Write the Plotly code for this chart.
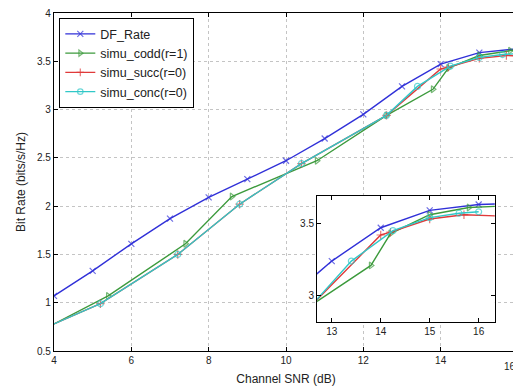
import plotly.graph_objects as go

# ---------------- data ----------------
df_x = [4, 5, 6, 7, 8, 9, 10, 11, 12, 13, 14, 15, 16, 17]
df_y = [1.07, 1.33, 1.61, 1.87, 2.09, 2.28, 2.47, 2.70, 2.95, 3.24, 3.47, 3.59, 3.63, 3.64]

codd_x = [4, 5.4, 7.4, 8.6, 10.8, 12.6, 13.8, 14.2, 15.0, 15.8, 16.5]
codd_y = [0.78, 1.07, 1.61, 2.10, 2.47, 2.94, 3.21, 3.43, 3.56, 3.61, 3.62]

succ_x = [4, 5.2, 7.2, 8.8, 10.4, 12.6, 14.0, 14.2, 15.0, 15.7, 16.5]
succ_y = [0.78, 0.99, 1.50, 2.02, 2.44, 2.94, 3.42, 3.44, 3.53, 3.56, 3.55]

conc_x = [4, 5.2, 7.2, 8.8, 10.4, 12.6, 13.4, 14.25, 15.0, 15.6, 16.0]
conc_y = [0.78, 0.99, 1.50, 2.02, 2.44, 2.94, 3.24, 3.45, 3.54, 3.57, 3.58]

names = ["DF_Rate", "simu_codd(r=1)", "simu_succ(r=0)", "simu_conc(r=0)"]
colors = ["#3030d8", "#3c9a3c", "#e03a3a", "#30c8c8"]
symbols = ["x-thin-open", "triangle-right-open", "cross-thin-open", "circle-open"]

main_xticks = [4, 6, 8, 10, 12, 14, 16]
main_xticklabels = ["4", "6", "8", "10", "12", "14", ""]  # last label drawn separately
last_xtick = 16
last_xticklabel = "16"
main_yticks = [0.5, 1, 1.5, 2, 2.5, 3, 3.5, 4]
main_yticklabels = ["0.5", "1", "1.5", "2", "2.5", "3", "3.5", "4"]
inset_xticks = [13, 14, 15, 16]
inset_yticks = [3, 3.5]

series = [(df_x, df_y), (codd_x, codd_y), (succ_x, succ_y), (conc_x, conc_y)]

fig = go.Figure()
for axis_pair in [("x", "y"), ("x2", "y2")]:
    for i in range(4):
        x, y = series[i]
        sizes = [6] * len(x)
        if i > 0:
            sizes[0] = 0  # no marker at the axis edge for simulation curves
        fig.add_trace(go.Scatter(
            x=x, y=y, mode="lines+markers", name=names[i],
            line=dict(color=colors[i], width=1.4),
            marker=dict(symbol=symbols[i], size=sizes, color=colors[i],
                        line=dict(color=colors[i], width=1.2)),
            xaxis=axis_pair[0], yaxis=axis_pair[1],
            showlegend=(axis_pair[0] == "x")))

tickfont = dict(family="Liberation Sans, Arial", size=10, color="#222")
axis_common = dict(showline=True, linecolor="black", linewidth=1.2, mirror="ticks",
                   ticks="inside", ticklen=4, tickcolor="black", automargin=False,
                   ticklabeloverflow="allow", tickfont=tickfont, zeroline=False)

fig.update_layout(
    width=521, height=388,
    margin=dict(l=46, r=11, t=5, b=45, autoexpand=False),
    paper_bgcolor="white", plot_bgcolor="white",
    font=dict(family="Liberation Sans, Arial", color="#222"),
    xaxis=dict(domain=[0, 1], range=[4, 16], tickvals=main_xticks, ticktext=main_xticklabels,
               showgrid=True, gridcolor="#c4c4c4", griddash="dot", gridwidth=1,
               title=dict(text="Channel SNR (dB)", font=dict(size=12), standoff=9),
               **axis_common),
    yaxis=dict(domain=[0, 1], range=[0.5, 4], tickvals=main_yticks, ticktext=main_yticklabels,
               showgrid=True, gridcolor="#c4c4c4", griddash="dot", gridwidth=1,
               title=dict(text="Bit Rate (bits/s/Hz)", font=dict(size=12), standoff=8),
               **axis_common),
    xaxis2=dict(domain=[0.567, 0.950], range=[12.7, 16.33], tickvals=inset_xticks,
                anchor="y2", showgrid=False, **axis_common),
    yaxis2=dict(domain=[0.086, 0.459], range=[2.82, 3.69], tickvals=inset_yticks,
                ticktext=["3", "3.5"], anchor="x2", showgrid=False, **axis_common),
    legend=dict(x=0.011, y=0.985, xanchor="left", yanchor="top",
                bgcolor="white", bordercolor="black", borderwidth=1.2,
                font=dict(family="Liberation Sans, Arial", size=12.5, color="#222"),
                tracegroupgap=0, itemwidth=30),
    showlegend=True,
)

fig.add_annotation(x=last_xtick, xref="x", y=0, yref="paper", yshift=-8,
                   text=last_xticklabel, showarrow=False, xanchor="right",
                   yanchor="top", font=tickfont)

fig.write_html("out.html")
